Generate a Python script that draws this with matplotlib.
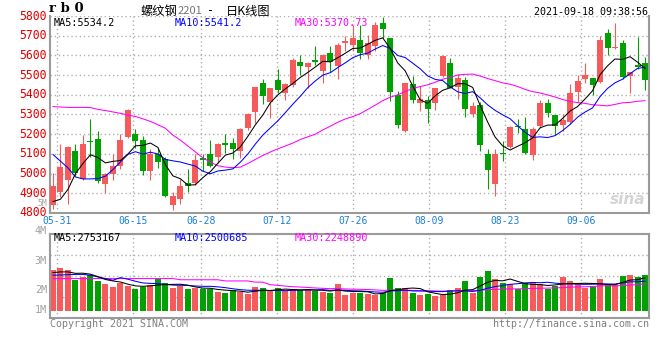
import numpy as np
import matplotlib.pyplot as plt
from matplotlib.patches import Rectangle

W, H = 660, 360

# daily candles (oldest -> newest)
opens = [4842, 4907, 4970, 5117, 4975, 5163, 5177, 4949, 4999, 5038,
         5187, 5202, 5172, 5012, 5097, 5072, 4839, 4873, 4953, 4951,
         5080, 5100, 5082, 5157, 5157, 5117, 5230, 5311, 5462, 5364,
         5476, 5411, 5449, 5567, 5540, 5579, 5522, 5610, 5544, 5664,
         5654, 5679, 5601, 5649, 5763, 5686, 5399, 5216, 5457, 5357,
         5372, 5357, 5496, 5559, 5442, 5477, 5304, 5347, 5100, 4948,
         5106, 5136, 5242, 5224, 5092, 5241, 5360, 5299, 5245, 5262,
         5416, 5479, 5483, 5466, 5712, 5637, 5661, 5496, 5550, 5561]
highs = [5004, 5151, 5140, 5151, 5194, 5279, 5218, 5004, 5100, 5199,
         5328, 5228, 5189, 5123, 5131, 5085, 4907, 4973, 5024, 5097,
         5097, 5172, 5155, 5202, 5182, 5230, 5309, 5442, 5479, 5437,
         5533, 5462, 5585, 5601, 5564, 5649, 5606, 5649, 5662, 5696,
         5756, 5754, 5703, 5771, 5795, 5686, 5420, 5462, 5496, 5445,
         5394, 5437, 5601, 5589, 5505, 5488, 5364, 5364, 5126, 5126,
         5165, 5241, 5279, 5289, 5238, 5374, 5381, 5299, 5304, 5454,
         5500, 5559, 5483, 5700, 5734, 5763, 5679, 5518, 5691, 5593]
lows = [4820, 4881, 4848, 4987, 4966, 5084, 4953, 4902, 4970, 5021,
        5182, 5131, 4992, 4970, 5029, 4881, 4817, 4846, 4907, 4943,
        5012, 5034, 5055, 5106, 5072, 5077, 5219, 5258, 5352, 5280,
        5411, 5374, 5440, 5499, 5437, 5550, 5462, 5518, 5479, 5623,
        5623, 5581, 5581, 5623, 5686, 5369, 5233, 5213, 5360, 5316,
        5258, 5321, 5491, 5437, 5381, 5289, 5289, 5117, 4922, 4888,
        5063, 5131, 5204, 5100, 5068, 5233, 5287, 5194, 5216, 5253,
        5364, 5462, 5398, 5462, 5601, 5635, 5482, 5411, 5530, 5423]
closes = [4939, 5033, 5133, 5002, 5151, 5160, 4960, 4999, 5041, 5172,
          5325, 5168, 5012, 5099, 5060, 4885, 4887, 4939, 4936, 5070,
          5067, 5038, 5151, 5143, 5123, 5224, 5304, 5442, 5394, 5432,
          5425, 5457, 5579, 5547, 5559, 5564, 5601, 5564, 5654, 5671,
          5686, 5611, 5661, 5754, 5734, 5415, 5245, 5459, 5372, 5381,
          5326, 5437, 5598, 5437, 5483, 5326, 5343, 5143, 5016, 5100,
          5101, 5238, 5238, 5106, 5224, 5357, 5306, 5241, 5272, 5411,
          5471, 5499, 5449, 5679, 5637, 5645, 5488, 5518, 5542, 5474]
# volume, millions of lots
volumes = [3.42, 3.56, 3.39, 2.58, 2.81, 3.00, 2.50, 2.22, 1.97, 2.36,
           2.08, 1.80, 2.02, 2.19, 2.67, 2.30, 1.88, 2.08, 1.80, 1.94,
           1.80, 1.80, 1.58, 1.52, 1.72, 1.58, 1.38, 2.00, 1.88, 1.66,
           1.88, 1.66, 1.80, 1.74, 1.80, 1.66, 1.58, 1.46, 2.22, 1.32,
           1.52, 1.52, 1.38, 1.30, 1.52, 2.72, 1.88, 1.88, 1.52, 1.30,
           1.38, 1.24, 1.32, 1.72, 1.88, 2.47, 1.46, 2.84, 3.31, 2.64,
           2.30, 2.22, 1.86, 2.36, 2.30, 2.22, 1.86, 2.08, 2.81, 2.47,
           2.22, 1.94, 2.00, 2.64, 2.22, 2.14, 2.89, 2.98, 2.81, 2.98]

# moving-average values before enough history is on screen
ma5_head = [4858, 4870, 4920, 5000]
ma10_head = [5097, 5063, 5029, 4983, 4973, 4973, 4975, 4987, 5021]
ma30_head = [5340, 5338, 5336, 5336, 5336, 5335, 5326, 5320, 5313, 5306,
             5297, 5290, 5278, 5265, 5248, 5230, 5195, 5170, 5140, 5110,
             5080, 5058, 5040, 5033, 5030, 5033, 5051, 5072, 5092]
vma5_head = [3.20, 3.26, 3.26, 3.14]
vma10_head = [2.98, 3.00, 3.03, 3.05, 3.05, 2.98, 2.84, 2.70, 2.56]
vma30_head = [2.70] * 17 + [2.60] * 6 + [2.50] * 4 + [2.40] * 2

date_labels = ['05-31', '06-15', '06-28', '07-12', '07-26', '08-09', '08-23', '09-06']
date_days = [0, 10, 19, 29, 39, 49, 59, 69]   # trading days after 05-31
price_ticks = [4800, 4900, 5000, 5100, 5200, 5300, 5400, 5500, 5600, 5700, 5800]
vol_labels = ['4M', '3M', '2M', '1M']

ma_text = ['MA5:5534.2', 'MA10:5541.2', 'MA30:5370.73']
vma_text = ['MA5:2753167', 'MA10:2500685', 'MA30:2248890']

RED = '#f65a5a'
GREEN = '#03a003'
GRID = '#b0b0b0'
FRAME = '#9a9a9a'
MA_COLORS = ['black', '#0000ff', '#ff00ff']


def moving_avg(vals, n, head):
    out = []
    for i in range(len(vals)):
        if i < n - 1:
            out.append(head[i])
        else:
            out.append(np.mean(vals[i - n + 1:i + 1]))
    return np.array(out)


def px(x, y):
    return x / W, 1 - y / H


n = len(closes)
x = np.arange(n)
step = (645.5 - 53) / (n - 1)
xl = (-3 / step, n - 1 + 4 / step)
# vertical grid sits on a slightly wider day pitch than the candles
grid_x = [(57.3 - 53) / step + d * 7.594 / step for d in date_days]

fig = plt.figure(figsize=(W / 100, H / 100), dpi=100)
fig.patch.set_facecolor('white')

ax = fig.add_axes([50 / W, 1 - 213 / H, 599 / W, 197 / H])
vax = fig.add_axes([50 / W, 1 - 318 / H, 599 / W, 84 / H])

for a in (ax, vax):
    a.set_xlim(*xl)
    a.set_xticks([])
    a.set_yticks([])
    for s in a.spines.values():
        s.set_color(FRAME)
        s.set_linewidth(1.5)
    for gx in grid_x:
        a.axvline(gx, color=GRID, lw=1, ls=(0, (1, 2)), zorder=0)

# ---- price panel
ax.set_ylim(4800, 5800)
ax.spines['top'].set_visible(False)
for p in price_ticks[1:]:
    ax.axhline(p, color=GRID, lw=1, ls=(0, (1, 2)), zorder=0)

for i in range(n):
    o, h, l, c = opens[i], highs[i], lows[i], closes[i]
    col = RED if c >= o else GREEN
    ax.vlines(i, l, h, color=col, lw=0.8, zorder=2)
    ax.add_patch(Rectangle((i - 0.4, min(o, c)), 0.8, max(abs(c - o), 4),
                           facecolor=col, edgecolor='none', zorder=3))

ma5 = moving_avg(closes, 5, ma5_head)
ma10 = moving_avg(closes, 10, ma10_head)
ma30 = moving_avg(closes, 30, ma30_head)
for line, col in zip([ma30, ma10, ma5], MA_COLORS[::-1]):
    ax.plot(x, line, color=col, lw=0.75, zorder=4)

mono = 'DejaVu Sans Mono'
for p in price_ticks:
    fig.text(*px(47, 16 + (5800 - p) * 0.197), str(p), color='#e00000',
             family=mono, fontsize=8.3, ha='right', va='center')
fig.text(*px(47, 203.5), '5M', color='#a0a0a0', family=mono, fontsize=5.8,
         ha='right', va='center')

for lab, gx in zip(date_labels, grid_x):
    xpix = 50 + (gx - xl[0]) / (xl[1] - xl[0]) * 599
    fig.text(*px(xpix, 221), lab, color='#1a7fd8', family=mono,
             fontsize=7.0, ha='center', va='center')

for t, col, xx in zip(ma_text, MA_COLORS, [54, 175, 295]):
    fig.text(*px(xx, 23), t, color=col, family=mono, fontsize=7.3,
             va='center')

# sina watermark
fig.text(*px(628, 200), 'sina', color='#d4d4d4', fontsize=11, style='italic',
         weight='bold', ha='center', va='center')

# ---- volume panel (0 at the bar base, ~11.9 px per million)
vpx = 11.9
vax.set_ylim(-(318 - 310.7) / vpx, (310.7 - 234) / vpx)
for k in (1, 2, 3):
    vax.axhline((310.7 - (234 + 21 * k)) / vpx, color=GRID, lw=1,
                ls=(0, (1, 2)), zorder=0)
vcols = [RED if closes[i] >= opens[i] else GREEN for i in range(n)]
vax.bar(x, volumes, width=0.8, color=vcols, zorder=2)
vma5 = moving_avg(volumes, 5, vma5_head)
vma10 = moving_avg(volumes, 10, vma10_head)
vma30 = moving_avg(volumes, 30, vma30_head)
for line, col in zip([vma30, vma10, vma5], MA_COLORS[::-1]):
    vax.plot(x, line, color=col, lw=0.75, zorder=4)

for lab, yy in zip(vol_labels, [231, 261, 290, 310]):
    fig.text(*px(47, yy), lab, color='#a0a0a0', family=mono, fontsize=7.3,
             ha='right', va='center')

for t, col, xx in zip(vma_text, MA_COLORS, [54, 175, 295]):
    fig.text(*px(xx, 238), t, color=col, family=mono, fontsize=7.3,
             va='center')

# ---- header / footer
fig.text(*px(49, 9), 'r b 0', color='black', family='DejaVu Serif',
         weight='bold', fontsize=9.5, va='center')
cjk = ['Noto Sans CJK SC', 'DejaVu Sans']
fig.text(*px(141, 11), '螺纹钢', color='black', family=cjk, fontsize=8.8,
         va='center')
fig.text(*px(178, 11), '2201', color='#777777', family=cjk, fontsize=8,
         va='center')
fig.text(*px(207, 11), '-', color='black', family=mono, fontsize=8.5,
         va='center')
fig.text(*px(226, 11), '日K线图', color='black', family=cjk, fontsize=8.8,
         va='center')
fig.text(*px(648, 12), '2021-09-18 09:38:56', color='black', family=mono,
         fontsize=7.2, ha='right', va='center')
fig.text(*px(50, 324), 'Copyright 2021 SINA.COM', color='#808080',
         family=mono, fontsize=7.2, va='center')
fig.text(*px(649, 324), 'http://finance.sina.com.cn', color='#808080',
         family=mono, fontsize=7.2, ha='right', va='center')

fig.savefig('out.png', dpi=100)
